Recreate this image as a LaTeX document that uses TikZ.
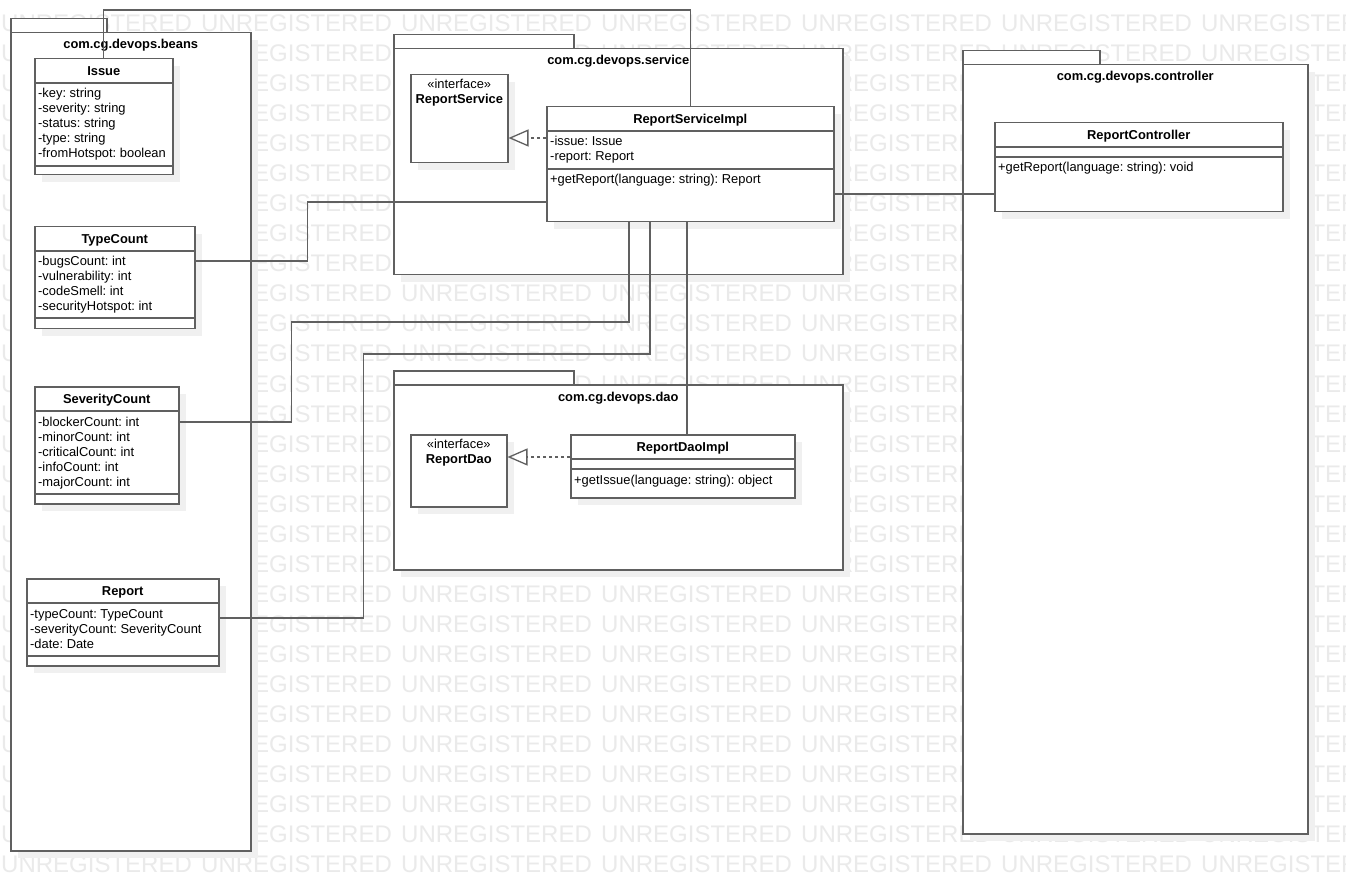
\documentclass[tikz,border=0pt]{standalone}
\usepackage{fontspec}
\setmainfont{Liberation Sans}
\usetikzlibrary{arrows.meta,shadows}
\definecolor{umlline}{RGB}{96,96,96}
\definecolor{umlshadow}{RGB}{240,240,240}
\definecolor{wmgray}{RGB}{234,234,234}
\frenchspacing
\begin{document}
\begin{tikzpicture}[x=1pt,y=-1pt,font=\fontsize{12.9}{15}\selectfont]
	\tikzset{
		box/.style={draw=umlline,line width=1.5pt,fill=white,anchor=north west,inner sep=0pt,
			drop shadow={shadow xshift=7pt,shadow yshift=-7pt,fill=umlshadow,opacity=1}},
		pkgtab/.style={draw=umlline,line width=1.5pt,fill=white,anchor=north west,inner sep=0pt},
		pkgname/.style={font=\fontsize{12.9}{15}\selectfont\bfseries,anchor=base,inner sep=0pt},
		clsname/.style={font=\fontsize{12.9}{15}\selectfont\bfseries,anchor=base,inner sep=0pt},
		member/.style={anchor=base west,inner sep=0pt},
		stereo/.style={anchor=base,inner sep=0pt},
		sepline/.style={draw=umlline,line width=1.5pt},
		assoc/.style={draw=umlline,line width=1.3pt},
		realize/.style={draw=umlline,line width=1.3pt,dash pattern=on 3pt off 3pt,
			-{Triangle[open,length=20pt,width=17pt,line width=1.3pt]}},
		wmark/.style={text=wmgray,font=\fontsize{24}{24}\selectfont,anchor=base west,inner sep=0pt}
	}
	\fill[white] (0,0) rectangle (1346,890);
	\useasboundingbox (0,0) rectangle (1346,890);
	% watermark
	\begin{scope}
		\clip (0,0) rectangle (1346,890);
		\foreach \r in {0,...,28}
		\foreach \c in {0,...,6}
		\node[wmark] (wm-\r-\c) at (200*\c+1,32+30*\r) {UNREGISTERED};
	\end{scope}
	% packages
	\node[pkgtab,minimum width=96pt,minimum height=14pt] (beans-tab) at (10,18) {};
	\node[box,minimum width=240pt,minimum height=818pt] (beans) at (10,32) {};
	\node[pkgname] (beans-name) at (beans.north |- 0,49) {com.cg.devops.beans};
	\node[pkgtab,minimum width=180pt,minimum height=14pt] (service-tab) at (393,34) {};
	\node[box,minimum width=449pt,minimum height=226pt] (service) at (393,48) {};
	\node[pkgname] (service-name) at (service.north |- 0,65) {com.cg.devops.service};
	\node[pkgtab,minimum width=180pt,minimum height=14pt] (dao-tab) at (393,370) {};
	\node[box,minimum width=449pt,minimum height=185pt] (dao) at (393,384) {};
	\node[pkgname] (dao-name) at (dao.north |- 0,401) {com.cg.devops.dao};
	\node[pkgtab,minimum width=137pt,minimum height=14pt] (ctrl-tab) at (962,50) {};
	\node[box,minimum width=345pt,minimum height=769pt] (ctrl) at (962,64) {};
	\node[pkgname] (ctrl-name) at (ctrl.north |- 0,81) {com.cg.devops.controller};
	% classes
	\node[box,minimum width=138pt,minimum height=116pt] (issue) at (34,58) {};
	\node[box,minimum width=160pt,minimum height=102pt] (typecount) at (34,226) {};
	\node[box,minimum width=144pt,minimum height=117pt] (sevcount) at (34,386) {};
	\node[box,minimum width=192pt,minimum height=87pt] (report) at (26,578) {};
	\node[box,minimum width=97pt,minimum height=88pt] (rsiface) at (410,74) {};
	\node[box,minimum width=287pt,minimum height=115pt] (rsi) at (546,106) {};
	\node[box,minimum width=96pt,minimum height=72pt] (daoiface) at (410,434) {};
	\node[box,minimum width=224pt,minimum height=63pt] (daoimpl) at (570,434) {};
	\node[box,minimum width=288pt,minimum height=89pt] (rc) at (994,122) {};
	\foreach \n/\y in {issue/83,issue/166,typecount/251,typecount/318,sevcount/411,sevcount/494,
		report/603,report/656,rsi/131,rsi/169,daoimpl/459,daoimpl/469,rc/147,rc/157}
	\draw[sepline] (\n.west |- 0,\y) -- (\n.east |- 0,\y);
	% class names
	\node[clsname] (issue-t) at (issue.north |- 0,75.5) {Issue};
	\node[clsname] (typecount-t) at (typecount.north |- 0,243.5) {TypeCount};
	\node[clsname] (sevcount-t) at (sevcount.north |- 0,403.5) {SeverityCount};
	\node[clsname] (report-t) at (report.north |- 0,595.5) {Report};
	\node[clsname] (rsi-t) at (rsi.north |- 0,123.5) {ReportServiceImpl};
	\node[clsname] (daoimpl-t) at (daoimpl.north |- 0,451.5) {ReportDaoImpl};
	\node[clsname] (rc-t) at (rc.north |- 0,139.5) {ReportController};
	\node[stereo] (rsiface-s) at (rsiface.north |- 0,88.5) {«interface»};
	\node[clsname] (rsiface-t) at (rsiface.north |- 0,103.5) {ReportService};
	\node[stereo] (daoiface-s) at (daoiface.north |- 0,448.5) {«interface»};
	\node[clsname] (daoiface-t) at (daoiface.north |- 0,463.5) {ReportDao};
	% members
	\foreach \t [count=\i] in {-key: string,-severity: string,-status: string,-type: string,-fromHotspot: boolean}
	\node[member] (issue-a\i) at (38,83+15*\i) {\t};
	\foreach \t [count=\i] in {-bugsCount: int,-vulnerability: int,-codeSmell: int,-securityHotspot: int}
	\node[member] (typecount-a\i) at (38,251+15*\i) {\t};
	\foreach \t [count=\i] in {-blockerCount: int,-minorCount: int,-criticalCount: int,-infoCount: int,-majorCount: int}
	\node[member] (sevcount-a\i) at (38,411+15*\i) {\t};
	\foreach \t [count=\i] in {-typeCount: TypeCount,-severityCount: SeverityCount,-date: Date}
	\node[member] (report-a\i) at (30,603+15*\i) {\t};
	\foreach \t [count=\i] in {-issue: Issue,-report: Report}
	\node[member] (rsi-a\i) at (550,131+15*\i) {\t};
	\node[member] (rsi-o1) at (550,184) {+getReport(language: string): Report};
	\node[member] (daoimpl-o1) at (574,484) {+getIssue(language: string): object};
	\node[member] (rc-o1) at (998,172) {+getReport(language: string): void};
	% connectors
	\draw[realize] (rsi.west |- 0,138) -- (rsiface.east |- 0,138);
	\draw[realize] (daoimpl.west |- 0,457) -- (daoiface.east |- 0,457);
	\draw[assoc] (issue.north) -- (issue.north |- 0,10) -| (rsi.north);
	\draw[assoc] (typecount.east |- 0,261) -- ++(112,0) |- (rsi.west |- 0,202);
	\draw[assoc] (sevcount.east |- 0,422) -- ++(112,0) |- (629,322) -- (rsi.south -| 629,0);
	\draw[assoc] (report.east |- 0,618) -- ++(144,0) |- (650,354) -- (rsi.south -| 650,0);
	\draw[assoc] (rsi.south -| 687,0) -- (daoimpl.north -| 687,0);
	\draw[assoc] (rsi.east |- 0,194) -- (rc.west |- 0,194);
\end{tikzpicture}
\end{document}
